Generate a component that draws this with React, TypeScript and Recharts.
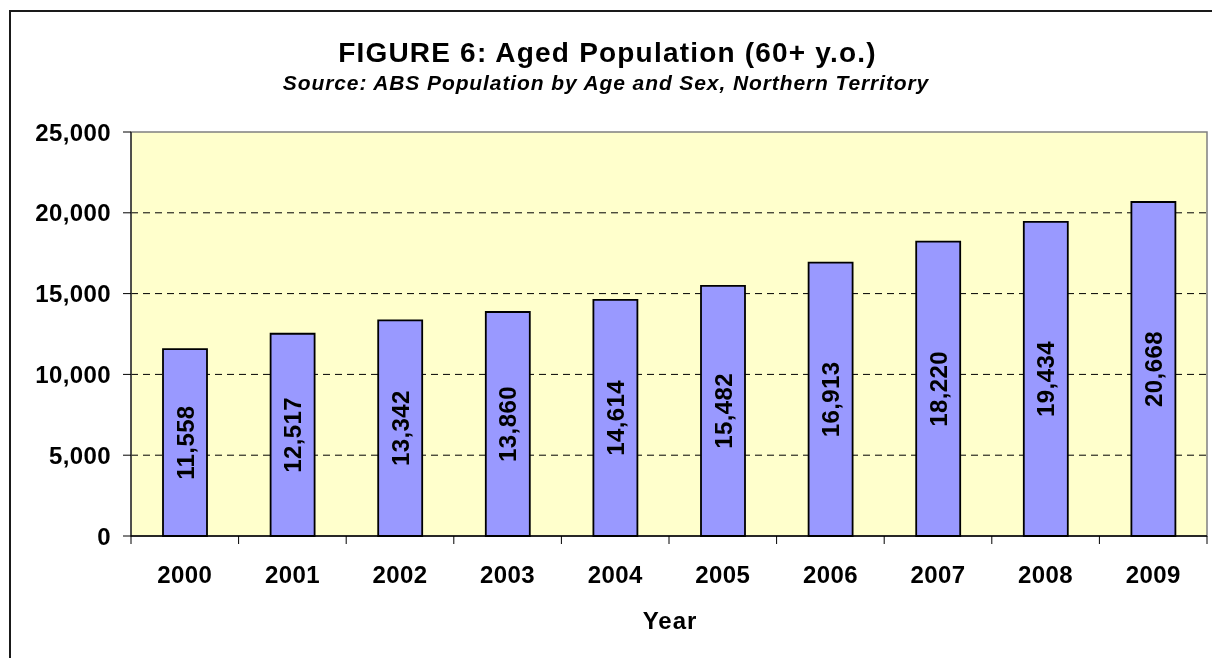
import React from 'react';
import { BarChart, Bar, XAxis, YAxis, CartesianGrid, LabelList, ReferenceArea } from 'recharts';

const years = ['2000', '2001', '2002', '2003', '2004', '2005', '2006', '2007', '2008', '2009'];
const aged = [11558, 12517, 13342, 13860, 14614, 15482, 16913, 18220, 19434, 20668];
const yTicks = [0, 5000, 10000, 15000, 20000, 25000];
const gridValues = [5000, 10000, 15000, 20000];

const data = years.map((y, i) => ({ year: y, value: aged[i] }));

const FONT = '"Liberation Sans", Arial, Helvetica, sans-serif';
const W = 1204;
const H = 650;
const MARGIN = { top: 124, right: 5, left: 0, bottom: 62 };
const Y_AXIS_W = 123;
const PLOT_W = W - MARGIN.left - MARGIN.right - Y_AXIS_W;
const HALF_BAND = PLOT_W / years.length / 2;

const fmt = (v: number) => v.toLocaleString('en-US');

const XTick = (props: any) => {
  const { x, y, payload, index } = props;
  const axisY = y - 10;
  return (
    <g>
      <line x1={x - HALF_BAND} x2={x - HALF_BAND} y1={axisY} y2={axisY + 8} stroke="#000" strokeWidth={1} />
      {index === years.length - 1 && (
        <line x1={x + HALF_BAND} x2={x + HALF_BAND} y1={axisY} y2={axisY + 8} stroke="#000" strokeWidth={1} />
      )}
      <text x={x} y={axisY + 47} textAnchor="middle" fontFamily={FONT} fontWeight="bold" fontSize={24} letterSpacing={0.4} fill="#000">
        {payload.value}
      </text>
    </g>
  );
};

export default function App() {
  return (
    <div style={{ position: 'fixed', left: 8, top: 8, width: W, height: H, overflow: 'hidden' }}>
      <div
        style={{
          position: 'absolute',
          left: 1,
          top: 2,
          width: 1400,
          height: 1000,
          border: '2px solid #1a1a1a',
          boxSizing: 'border-box',
        }}
      />
      <svg style={{ position: 'absolute', left: 0, top: 0 }} width={W} height={H}>
        <text x={599.5} y={54} textAnchor="middle" fontFamily={FONT} fontWeight="bold" fontSize={28} letterSpacing={1.2} fill="#000">
          FIGURE 6: Aged Population (60+ y.o.)
        </text>
        <text x={598} y={82} textAnchor="middle" fontFamily={FONT} fontWeight="bold" fontStyle="italic" fontSize={21} letterSpacing={0.9} fill="#000">
          Source: ABS Population by Age and Sex, Northern Territory
        </text>
        <text x={662} y={621} textAnchor="middle" fontFamily={FONT} fontWeight="bold" fontSize={24} letterSpacing={1} fill="#000">
          Year
        </text>
      </svg>
      <div style={{ position: 'absolute', left: 0, top: 0 }}>
        <BarChart width={W} height={H} data={data} margin={MARGIN}>
          <CartesianGrid
            fill="#FFFFCC"
            vertical={false}
            horizontalValues={gridValues}
            stroke="#000"
            strokeDasharray="7 5"
          />
          <ReferenceArea y1={0} y2={25000} fill="none" stroke="#808080" strokeWidth={1.5} ifOverflow="visible" />
          <XAxis
            dataKey="year"
            height={60}
            tickLine={false}
            tickSize={8}
            tickMargin={2}
            axisLine={{ stroke: '#000', strokeWidth: 1.5 }}
            tick={<XTick />}
            interval={0}
          />
          <YAxis
            width={Y_AXIS_W}
            domain={[0, 25000]}
            ticks={yTicks}
            tickFormatter={fmt}
            tickSize={8}
            tickMargin={12}
            axisLine={{ stroke: '#000', strokeWidth: 1 }}
            tickLine={{ stroke: '#000' }}
            tick={{ fontFamily: FONT, fontWeight: 'bold', fontSize: 24, fill: '#000', letterSpacing: 0.4 }}
          />
          <Bar dataKey="value" fill="#9999FF" stroke="#000" strokeWidth={1.8} barSize={44} isAnimationActive={false}>
            <LabelList
              dataKey="value"
              position="center"
              angle={-90}
              formatter={(v: any) => fmt(Number(v))}
              style={{ fontFamily: FONT, fontWeight: 'bold', fontSize: 24, fill: '#000', letterSpacing: 0.4 }}
            />
          </Bar>
        </BarChart>
      </div>
    </div>
  );
}
